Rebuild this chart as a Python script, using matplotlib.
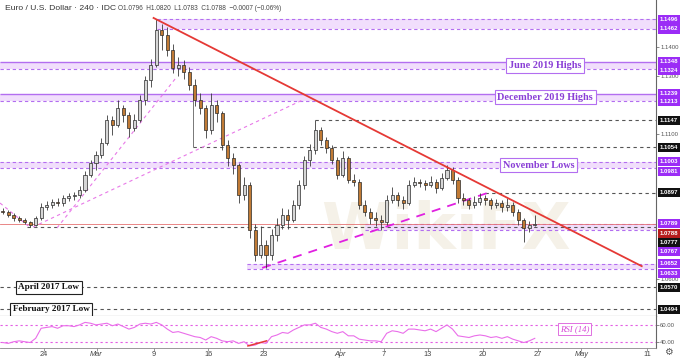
import matplotlib
matplotlib.use('Agg')
import matplotlib.pyplot as plt
from matplotlib.patches import Rectangle
import matplotlib.transforms as mtransforms

# ---------------- data (12h candles, x in trading days from Feb 24) ----------------
open0 = 1.0835
closes = [1.0830, 1.0820, 1.0809, 1.0802, 1.0795, 1.0785, 1.0809, 1.0847, 1.0854, 1.0864,
          1.0861, 1.0878, 1.0885, 1.0889, 1.0906, 1.0958, 1.0999, 1.1027, 1.1068, 1.1148,
          1.1130, 1.1189, 1.1165, 1.1120, 1.1148, 1.1217, 1.1286, 1.1338, 1.1458, 1.1441,
          1.1389, 1.1327, 1.1338, 1.1313, 1.1268, 1.1217, 1.1189, 1.1113, 1.1199, 1.1172,
          1.1061, 1.1016, 1.0992, 1.0889, 1.0923, 1.0768, 1.0682, 1.0716, 1.0682, 1.0751,
          1.0785, 1.0820, 1.0802, 1.0854, 1.0923, 1.1010, 1.1044, 1.1113, 1.1079, 1.1051,
          1.1010, 1.0958, 1.1016, 1.0940, 1.0934, 1.0854, 1.0830, 1.0809, 1.0802, 1.0795,
          1.0871, 1.0889, 1.0871, 1.0861, 1.0923, 1.0934, 1.0930, 1.0923, 1.0934, 1.0913,
          1.0947, 1.0975, 1.0940, 1.0878, 1.0871, 1.0854, 1.0864, 1.0878, 1.0871, 1.0854,
          1.0861, 1.0847, 1.0854, 1.0830, 1.0802, 1.0775, 1.0785, 1.0788]
highs = [1.0845, 1.0838, 1.0826, 1.0815, 1.0810, 1.0800, 1.0815, 1.0862, 1.0867, 1.0875,
         1.0880, 1.0890, 1.0895, 1.0900, 1.0920, 1.0970, 1.1010, 1.1040, 1.1085, 1.1165,
         1.1160, 1.1215, 1.1200, 1.1175, 1.1170, 1.1235, 1.1300, 1.1360, 1.1496, 1.1480,
         1.1470, 1.1410, 1.1365, 1.1355, 1.1330, 1.1290, 1.1240, 1.1200, 1.1240, 1.1215,
         1.1180, 1.1080, 1.1035, 1.1000, 1.0950, 1.0935, 1.0790, 1.0780, 1.0735, 1.0770,
         1.0810, 1.0845, 1.0840, 1.0870, 1.0940, 1.1025, 1.1065, 1.1147, 1.1125, 1.1090,
         1.1060, 1.1020, 1.1040, 1.1025, 1.0960, 1.0945, 1.0870, 1.0845, 1.0830, 1.0820,
         1.0890, 1.0915, 1.0900, 1.0885, 1.0940, 1.0950, 1.0945, 1.0940, 1.0955, 1.0945,
         1.0965, 1.0992, 1.0985, 1.0950, 1.0895, 1.0880, 1.0885, 1.0895, 1.0890, 1.0880,
         1.0875, 1.0870, 1.0880, 1.0865, 1.0840, 1.0810, 1.0800, 1.0820]
lows = [1.0822, 1.0812, 1.0800, 1.0794, 1.0788, 1.0778, 1.0780, 1.0803, 1.0838, 1.0845,
        1.0850, 1.0852, 1.0868, 1.0872, 1.0880, 1.0900, 1.0950, 1.0975, 1.1015, 1.1060,
        1.1095, 1.1122, 1.1140, 1.1090, 1.1110, 1.1140, 1.1200, 1.1260, 1.1330, 1.1390,
        1.1370, 1.1310, 1.1300, 1.1290, 1.1250, 1.1195, 1.1170, 1.1085, 1.1100, 1.1140,
        1.1045, 1.0990, 1.0960, 1.0860, 1.0870, 1.0740, 1.0660, 1.0670, 1.0636, 1.0665,
        1.0730, 1.0770, 1.0770, 1.0795, 1.0840, 1.0910, 1.0990, 1.1030, 1.1060, 1.1035,
        1.0995, 1.0945, 1.0950, 1.0930, 1.0920, 1.0840, 1.0815, 1.0790, 1.0780, 1.0768,
        1.0785, 1.0860, 1.0850, 1.0840, 1.0855, 1.0915, 1.0915, 1.0905, 1.0915, 1.0895,
        1.0905, 1.0940, 1.0925, 1.0860, 1.0855, 1.0840, 1.0845, 1.0855, 1.0855, 1.0840,
        1.0845, 1.0830, 1.0835, 1.0815, 1.0785, 1.0727, 1.0760, 1.0783]
rsi = [39, 38, 40, 41, 40, 39, 44, 56, 57, 58, 56, 59, 59, 58, 60, 63, 62, 60, 61, 62,
       59, 61, 58, 55, 57, 61, 62, 61, 63, 60, 55, 51, 52, 50, 48, 46, 45, 42, 46, 44,
       41, 40, 41, 38, 40, 35, 36, 39, 38, 46, 48, 51, 50, 54, 57, 60, 60, 62, 57, 55,
       52, 50, 52, 47, 47, 43, 42, 41, 41, 40, 50, 53, 52, 50, 55, 55, 54, 53, 55, 52,
       56, 60, 55, 47, 46, 45, 47, 48, 47, 45, 46, 44, 46, 43, 41, 39, 41, 44]

# levels
zone_lo = [1.1462, 1.1324, 1.1213, 1.0981, 1.0767, 1.0633]
zone_hi = [1.1496, 1.1348, 1.1239, 1.1003, 1.0789, 1.0652]
zone_start = [10.3, -4.0, -4.0, -4.0, 29.3, 18.5]
zone_top_solid = [False, True, True, False, False, False]
grey_lvls = [1.1147, 1.1054, 1.0897, 1.0777, 1.0570, 1.0494]
grey_start = [24.7, 13.6, 40.2, -1.55, -4.0, -4.0]
last_price = 1.0788

zone_names = ["June 2019 Highs", "December 2019 Highs", "November Lows"]
zone_name_lvls = [1.1336, 1.1226, 1.0992]
zone_name_x = [45.7, 45.7, 45.1]
low_names = ["April 2017 Low", "February 2017 Low"]
low_name_lvls = [1.0570, 1.0494]
low_name_x = [0.45, 0.65]

red_trend_x = [10.0, 54.5]
red_trend_y = [1.1500, 1.0643]
mag_trend_x = [19.9, 40.7]
mag_trend_y = [1.0637, 1.0899]
pink_lines = [([-4.0, -1.3], [1.0861, 1.0778]),
              ([-1.0, 23.6], [1.0778, 1.1217]),
              ([1.2, 12.1], [1.0775, 1.1296])]
rsi_div_x = [18.6, 20.3]
rsi_div_y = [35, 41]

right_labels = ["1.1496", "1.1462", "1.1348", "1.1324", "1.1239", "1.1213", "1.1147", "1.1054",
                "1.1003", "1.0981", "1.0897", "1.0789", "1.0788", "1.0777", "1.0767", "1.0652",
                "1.0633", "1.0570", "1.0494"]
right_pos = [1.1496, 1.1462, 1.1348, 1.1320, 1.1239, 1.1213, 1.1147, 1.1054,
             1.1003, 1.0969, 1.0897, 1.0789, 1.0757, 1.0726, 1.0695, 1.0652,
             1.0619, 1.0570, 1.0494]
right_kind = ["p", "p", "p", "p", "p", "p", "k", "k", "p", "p", "k", "p", "r", "k", "p", "p",
              "p", "k", "k"]
plain_ticks = [1.1400, 1.1300, 1.1100, 1.0600]
rsi_ticks = [40, 60]

date_pos = [0, 4.8, 10, 15, 20, 27, 31, 35, 40, 45, 49, 55]
date_lbl = ['24', 'Mar', '9', '16', '23', 'Apr', '7', '13', '20', '27', 'May', '11']

# ---------------- styles ----------------
PURPLE_FILL = '#f1defc'
PURPLE_LINE = '#b36ef0'
PURPLE_BG = '#9b2cf6'
PURPLE_TXT = '#8a3fd6'
SANS = 'Liberation Sans'
SERIF = 'Liberation Serif'
XMIN, XMAX = -4.0, 55.8
YMIN, YMAX = 1.04709, 1.1562

fig = plt.figure(figsize=(6.8, 3.6), dpi=100)
ax = fig.add_axes([0.0, 1 - 316 / 360, 656 / 680, 316 / 360])
rx = fig.add_axes([0.0, 1 - 348 / 360, 656 / 680, 32 / 360])

ax.set_xlim(XMIN, XMAX)
ax.set_ylim(YMIN, YMAX)
rx.set_xlim(XMIN, XMAX)
rx.set_ylim(32.5, 70.6)

for a in (ax, rx):
    for s in ('top', 'left'):
        a.spines[s].set_visible(False)
    a.spines['right'].set_color('#666666')
    a.spines['right'].set_linewidth(0.8)
    a.yaxis.tick_right()
    a.tick_params(axis='y', direction='out', length=2, width=0.6, pad=1,
                  color='#777777', labelsize=4.3, labelcolor='#555555')
ax.spines['bottom'].set_color('#555555')
ax.spines['bottom'].set_linewidth(0.8)
rx.spines['bottom'].set_color('#888888')
rx.spines['bottom'].set_linewidth(0.6)
ax.set_xticks([])

ax.set_yticks(plain_ticks)
ax.set_yticklabels([f'{p:.4f}' for p in plain_ticks], family=SANS)
rx.set_yticks(rsi_ticks)
rx.set_yticklabels([f'{v:.2f}' for v in rsi_ticks], family=SANS)

# watermark
ax.text(0.68, 0.27, 'WikiFX', transform=ax.transAxes, fontsize=46, fontweight='bold',
        color='#f5f1e8', ha='center', va='center', zorder=0)

# zones
for lo, hi, st, solid in zip(zone_lo, zone_hi, zone_start, zone_top_solid):
    ax.fill_between([st, XMAX], lo, hi, color=PURPLE_FILL, lw=0, zorder=1)
    ax.hlines(hi, st, XMAX, colors=PURPLE_LINE, lw=1.0 if solid else 0.8,
              linestyles='solid' if solid else (0, (3, 2.5)), zorder=2)
    ax.hlines(lo, st, XMAX, colors=PURPLE_LINE, lw=0.8, linestyles=(0, (3, 2.5)), zorder=2)

# grey levels
for lv, st in zip(grey_lvls, grey_start):
    ax.hlines(lv, st, XMAX, colors='#555555', lw=0.8, linestyles=(0, (3, 3)), zorder=2)
ax.vlines(grey_start[1], grey_lvls[1], zone_hi[2], colors='#777777', lw=0.7, zorder=2)
ax.axhline(last_price, color='#e57373', lw=0.6, zorder=2)

# trend lines
for xs_, ys_ in pink_lines:
    ax.plot(xs_, ys_, color='#e879e8', lw=0.8, ls=(0, (3, 3)), zorder=3)
ax.plot(mag_trend_x, mag_trend_y, color='#e020e0', lw=1.3, ls=(0, (5, 4)), zorder=3)
ax.plot(red_trend_x, red_trend_y, color='#e53935', lw=1.3, zorder=6)

# candles
n = len(closes)
xs = [XMIN + (i + 0.5) * 0.5 for i in range(n)]
opens = [open0] + closes[:-1]
for x, o, h, l, c in zip(xs, opens, highs, lows, closes):
    ax.vlines(x, l, h, colors='#3a3a3a', lw=0.6, zorder=4)
    up = c >= o
    ax.add_patch(Rectangle((x - 0.14, min(o, c)), 0.28, max(abs(c - o), 0.00015),
                           facecolor='#d6d6d6' if up else '#c07a35',
                           edgecolor='#2a2a2a', lw=0.5, zorder=5))

# text boxes
for name, lv, xx in zip(zone_names, zone_name_lvls, zone_name_x):
    ax.text(xx, lv, name, fontsize=7.4, family=SERIF, fontweight='bold',
            color=PURPLE_TXT, ha='center', va='center', zorder=7,
            bbox=dict(boxstyle='square,pad=0.25', fc='white', ec=PURPLE_LINE, lw=0.8))
for name, lv, xx in zip(low_names, low_name_lvls, low_name_x):
    ax.text(xx, lv, name, fontsize=6.6, family=SERIF, fontweight='bold',
            color='#111111', ha='center', va='center', zorder=7,
            bbox=dict(boxstyle='square,pad=0.25', fc='white', ec='#222222', lw=0.8))

# title
ax.text(0.008, 0.985, 'Euro / U.S. Dollar · 240 · IDC', transform=ax.transAxes,
        fontsize=6.1, family=SANS, color='#333333', ha='left', va='top', zorder=8)
ax.text(0.18, 0.985, 'O1.0796  H1.0820  L1.0783  C1.0788  \u22120.0007 (\u22120.06%)',
        transform=ax.transAxes, fontsize=4.7, family=SANS, color='#444444', ha='left',
        va='top', zorder=8)

# right axis value labels
trans = mtransforms.blended_transform_factory(ax.transAxes, ax.transData)
bgmap = {'p': PURPLE_BG, 'k': '#111111', 'r': '#b71c1c'}
for t, p, k in zip(right_labels, right_pos, right_kind):
    ax.text(1.0055, p, t, transform=trans, fontsize=4.3, family=SANS, color='white',
            fontweight='bold', ha='left', va='center', clip_on=False, zorder=9,
            bbox=dict(boxstyle='square,pad=0.35', fc=bgmap[k], ec='none'))

# RSI panel
rx.axhline(60, color='#e45ce4', lw=0.8, ls=(0, (2, 2.5)))
rx.axhline(40, color='#e45ce4', lw=0.8, ls=(0, (2, 2.5)))
rx.plot(xs, rsi, color='#ea6eea', lw=0.8)
rx.plot(rsi_div_x, rsi_div_y, color='#e53935', lw=1.1)
rx.text(48.4, 55, 'RSI (14)', fontsize=6.3, family=SERIF, style='italic',
        color='#d84bd8', ha='center', va='center',
        bbox=dict(boxstyle='square,pad=0.2', fc='white', ec='#e070e0', lw=0.7))
rx.set_xticks(date_pos)
rx.set_xticklabels(date_lbl, family=SANS)
rx.tick_params(axis='x', length=2, width=0.6, color='#888888', labelsize=5.3,
               labelcolor='#444444', pad=0.5)
for lbl in rx.get_xticklabels():
    if lbl.get_text() in ('Mar', 'Apr', 'May'):
        lbl.set_style('italic')

fig.text(668 / 680, 1 - 352 / 360, '\u2699', fontsize=7, color='#555555', ha='center',
         va='center')

fig.savefig('out.png', dpi=100, facecolor='white')
